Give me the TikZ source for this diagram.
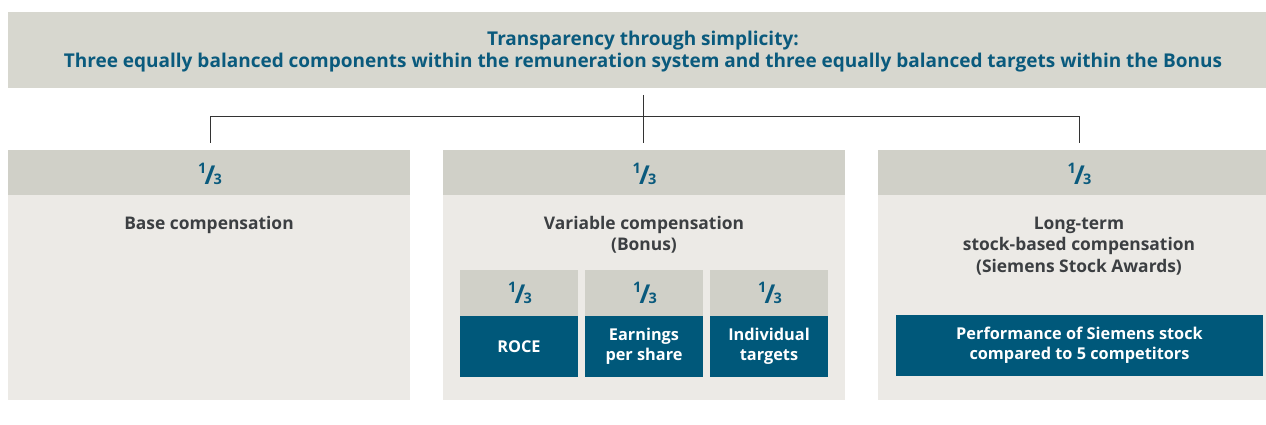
\documentclass[tikz,border=0pt]{standalone}
\usepackage{fontspec}
\setmainfont{Open Sans}
\usetikzlibrary{calc}
\definecolor{bannergray}{RGB}{215,215,207}
\definecolor{headgray}{RGB}{208,208,200}
\definecolor{bodygray}{RGB}{236,234,230}
\definecolor{petrol}{RGB}{0,88,122}
\definecolor{titleblue}{RGB}{10,90,125}
\definecolor{bodytext}{RGB}{60,63,66}
\newcommand\onethird{\raisebox{11pt}{\fontsize{14.5}{14.5}\selectfont\bfseries 1}\kern-1.8pt{\fontsize{26}{26}\selectfont\bfseries /}\kern-1.8pt{\fontsize{14.5}{14.5}\selectfont\bfseries 3}}
\begin{document}
\begin{tikzpicture}[x=1pt,y=-1pt,
  fractxt/.style={text=titleblue,anchor=base,inner sep=0pt},
  bodylbl/.style={text=bodytext,align=center,anchor=north,font=\fontsize{17.4}{21.5}\selectfont\bfseries},
  whitelbl/.style={text=white,align=center,font=\fontsize{16.3}{20}\selectfont\bfseries},
  connector/.style={draw=black!80,line width=1pt}]
\useasboundingbox (0,0) rectangle (1266,425);
\clip (0,0) rectangle (1266,425);
% banner
\fill[bannergray] (8,12) rectangle (1278,88);
\node[text=titleblue,align=center,font=\fontsize{19}{22}\selectfont\bfseries] (banner) at (643,52)
  {Transparency through simplicity:\\Three equally balanced components within the remuneration system and three equally balanced targets within the Bonus};
\coordinate (btop) at (643.5,95);
% columns
\foreach \xl in {8,443,878}{
  \fill[headgray] (\xl,150) rectangle ++(402,45);
  \fill[bodygray] (\xl,195) rectangle ++(402,205);
}
\node[fractxt] (f1) at (210,184) {\onethird};
\node[fractxt] (f2) at (644.5,184) {\onethird};
\node[fractxt] (f3) at (1079.5,184) {\onethird};
% connectors
\coordinate (j1) at (210,143);
\coordinate (j2) at (643.5,143);
\coordinate (j3) at (1079,143);
\coordinate (h1) at (210,117);
\coordinate (h3) at (1079,117);
\draw[connector] (j1) -- (h1) -- (h3) -- (j3);
\draw[connector] (btop) -- (j2);
% texts
\node[bodylbl] (t1) at (209,212.5) {Base compensation};
\node[bodylbl] (t2) at (644,212.5) {Variable compensation\\(Bonus)};
\node[bodylbl] (t3) at (1079,213.3) {Long-term\\stock-based compensation\\(Siemens Stock Awards)};
% sub boxes
\foreach \xl/\lbl/\nm in {460/ROCE/s1,585/{Earnings\\per share}/s2,710/{Individual\\targets}/s3}{
  \fill[headgray] (\xl,270) rectangle ++(118,46);
  \fill[petrol] (\xl,316) rectangle ++(118,61);
  \node[fractxt] (\nm f) at ($(\xl,303)+(60,0)$) {\onethird};
  \node[whitelbl] (\nm t) at ($(\xl,346.5)+(59,0)$) {\lbl};
}
\fill[petrol] (896,315) rectangle (1263,376);
\node[whitelbl] (perf) at (1079.5,345.5) {Performance of Siemens stock\\compared to 5 competitors};
\end{tikzpicture}
\end{document}
